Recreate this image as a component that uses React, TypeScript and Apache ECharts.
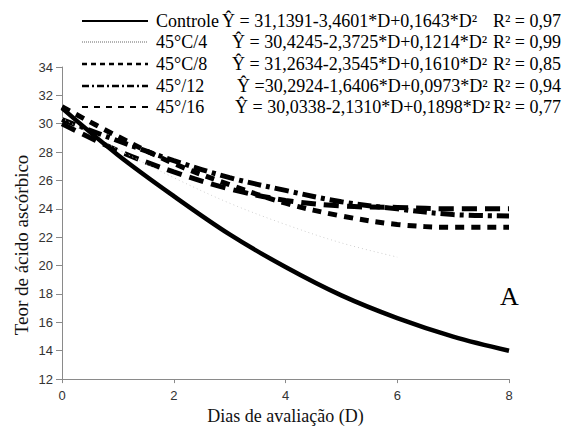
import React, { useEffect, useRef } from "react";
import * as echarts from "echarts";

const days = [0, 1, 2, 3, 4, 5, 6, 7, 8];
const controle = [31.1, 27.8, 24.9, 22.2, 19.9, 17.9, 16.3, 15.0, 14.0];
const c45_4 = [30.4, 28.2, 26.2, 24.4, 22.9, 21.6, 20.6];
const c45_8 = [31.2, 29.1, 27.2, 25.7, 24.4, 23.5, 22.9, 22.7, 22.7];
const c45_12 = [30.3, 28.8, 27.4, 26.2, 25.3, 24.5, 24.0, 23.6, 23.5];
const c45_16 = [30.0, 28.1, 26.6, 25.4, 24.6, 24.2, 24.1, 24.0, 24.0];

const seriesNames = ["Controle", "45°C/4", "45°C/8", "45°/12", "45°/16"];
const equations = [
  "Ŷ = 31,1391-3,4601*D+0,1643*D²",
  "Ŷ = 30,4245-2,3725*D+0,1214*D²",
  "Ŷ = 31,2634-2,3545*D+0,1610*D²",
  "Ŷ =30,2924-1,6406*D+0,0973*D²",
  "Ŷ = 30,0338-2,1310*D+0,1898*D²",
];
const r2Labels = ["R² = 0,97", "R² = 0,99", "R² = 0,85", "R² = 0,94", "R² = 0,77"];
const yTicks = { min: 12, max: 34, interval: 2 };
const xTicks = { min: 0, max: 8, interval: 2 };
const yTitle = "Teor de ácido ascórbico";
const xTitle = "Dias de avaliação (D)";
const panelLetter = "A";

const serif = "'Liberation Serif', 'Times New Roman', serif";
const sans = "'Liberation Sans', Arial, sans-serif";

const pairs = (vals: number[]) => vals.map((v, i) => [days[i], v]);

export default function App() {
  const ref = useRef<HTMLDivElement>(null);
  useEffect(() => {
    if (!ref.current) return;
    const chart = echarts.init(ref.current, null, { renderer: "svg" });

    const plotStyles = [
      { width: 4.5, type: "solid" as any, color: "#000" },
      { width: 1, type: [1, 3] as any, color: "#cfcfcf" },
      { width: 5, type: [9, 7] as any, color: "#000" },
      { width: 5, type: [14, 5, 4, 5] as any, color: "#000" },
      { width: 5, type: [15, 8] as any, color: "#000" },
    ];
    const legendStyles = [
      { lineWidth: 2, lineDash: null as any, stroke: "#000" },
      { lineWidth: 1, lineDash: [1, 1], stroke: "#666" },
      { lineWidth: 2.5, lineDash: [5, 4], stroke: "#000" },
      { lineWidth: 2.5, lineDash: [7, 3, 2, 3], stroke: "#000" },
      { lineWidth: 2, lineDash: [6, 6], stroke: "#000" },
    ];
    const data = [controle, c45_4, c45_8, c45_12, c45_16];
    const rowY = [21, 42, 64, 86, 107];
    const eqX = [222, 232, 232, 237, 235];

    const graphics: any[] = [];
    seriesNames.forEach((name, i) => {
      graphics.push({
        type: "line",
        shape: { x1: 82, y1: rowY[i], x2: 148, y2: rowY[i] },
        style: { ...legendStyles[i], fill: null },
      });
      graphics.push({
        type: "text",
        x: 156,
        y: rowY[i],
        style: { text: name, font: `18px ${serif}`, fill: "#000", textVerticalAlign: "middle" },
      });
      graphics.push({
        type: "text",
        x: eqX[i],
        y: rowY[i],
        style: { text: equations[i], font: `18px ${serif}`, fill: "#000", textVerticalAlign: "middle" },
      });
      graphics.push({
        type: "text",
        x: 561,
        y: rowY[i],
        style: {
          text: r2Labels[i],
          font: `18px ${serif}`,
          fill: "#000",
          textAlign: "right",
          textVerticalAlign: "middle",
        },
      });
    });
    graphics.push({
      type: "text",
      x: 500,
      y: 283,
      style: { text: panelLetter, font: `26px ${serif}`, fill: "#000" },
    });
    graphics.push({
      type: "text",
      x: 21,
      y: 245,
      rotation: Math.PI / 2,
      style: {
        text: yTitle,
        font: `19px ${serif}`,
        fill: "#111",
        textAlign: "center",
        textVerticalAlign: "middle",
      },
    });

    chart.setOption({
      animation: false,
      grid: { left: 62, right: 54, top: 67, bottom: 41 },
      xAxis: {
        type: "value",
        ...xTicks,
        name: xTitle,
        nameLocation: "middle",
        nameGap: 19,
        nameTextStyle: { fontFamily: serif, fontSize: 18, color: "#111" },
        axisLine: { lineStyle: { color: "#8a8a8a", width: 1 } },
        axisTick: { show: true, length: 4, lineStyle: { color: "#8a8a8a" } },
        axisLabel: { fontFamily: sans, fontSize: 13, color: "#333", margin: 10 },
        splitLine: { show: false },
      },
      yAxis: {
        type: "value",
        ...yTicks,
        axisLine: { show: true, lineStyle: { color: "#8a8a8a", width: 1 } },
        axisTick: { show: true, length: 6, lineStyle: { color: "#8a8a8a" } },
        axisLabel: { fontFamily: sans, fontSize: 13, color: "#333", margin: 9 },
        splitLine: { show: false },
      },
      series: data.map((vals, i) => ({
        name: seriesNames[i],
        type: "line",
        data: pairs(vals),
        smooth: 0.35,
        showSymbol: false,
        symbol: "none",
        lineStyle: plotStyles[i],
        z: 10 - i,
      })),
      graphic: graphics,
    });
    return () => chart.dispose();
  }, []);
  return <div ref={ref} style={{ width: 563, height: 430, position: "absolute", left: 0, top: 0 }} />;
}
